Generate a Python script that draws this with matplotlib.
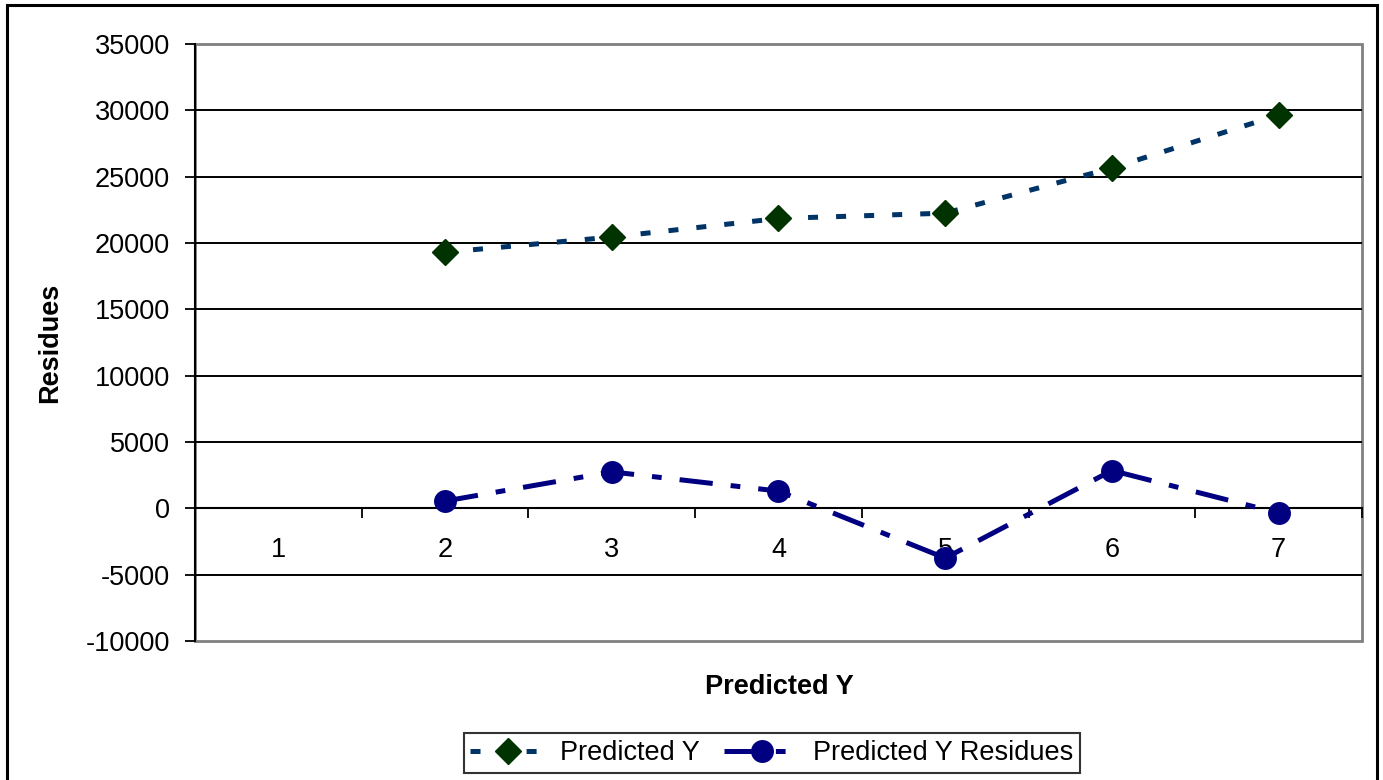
import matplotlib.pyplot as plt
from matplotlib.patches import Rectangle

plt.rcParams['font.family'] = ['Liberation Sans', 'DejaVu Sans']
plt.rcParams['lines.scale_dashes'] = False
plt.rcParams['axes.unicode_minus'] = False

categories = [1, 2, 3, 4, 5, 6, 7]
pred_x = [2, 3, 4, 5, 6, 7]
predicted_y = [19300, 20450, 21850, 22250, 25650, 29650]
residues = [550, 2750, 1300, -3750, 2850, -350]
y_ticks = list(range(-10000, 35001, 5000))

fig = plt.figure(figsize=(13.83, 7.8), dpi=100)
ax = fig.add_axes([195 / 1383, 1 - 641 / 780, 1167 / 1383, 597 / 780])

# outer chart border
fig.patches.append(Rectangle((6.5 / 1383, -0.05), 1370 / 1383, 1.05 - 5 / 780,
                             transform=fig.transFigure, fill=False,
                             edgecolor='black', lw=2.2))

ax.set_xlim(0.5, 7.5)
ax.set_ylim(-10000, 35000)

# plot area border (gray)
ax.add_patch(Rectangle((0, 0), 1, 1, transform=ax.transAxes, fill=False,
                       edgecolor='#808080', lw=2, zorder=1, clip_on=False))
for s in ['top', 'right']:
    ax.spines[s].set_visible(False)
ax.spines['left'].set_color('black')
ax.spines['left'].set_linewidth(1.5)
ax.spines['bottom'].set_position(('data', 0))
ax.spines['bottom'].set_linewidth(1.5)

for v in y_ticks[1:-1]:
    ax.axhline(v, color='black', lw=1.4, zorder=1)

ax.set_yticks(y_ticks)
ax.tick_params(axis='y', direction='out', length=7, width=1.3, pad=11,
               labelsize=19.5)

ax.set_xticks(categories)
ax.set_xticklabels([str(c) for c in categories])
ax.tick_params(axis='x', which='major', length=0, pad=21, labelsize=19.5)
ax.set_xticks([c + 0.5 for c in categories[:-1]] + [7.5], minor=True)
ax.tick_params(axis='x', which='minor', direction='out', length=7, width=1.3)

ax.plot(pred_x, predicted_y, color='#003366', lw=3.6, dashes=(7.2, 13),
        marker='D', ms=13, mfc='#003300', mec='#003300',
        label='Predicted Y', zorder=3)
ax.plot(pred_x, residues, color='#000080', lw=3.6, dashes=(24, 13, 7, 13),
        marker='o', ms=15.5, mfc='#000080', mec='#000080',
        label='Predicted Y Residues', zorder=3)

ax.set_ylabel('Residues', fontsize=19.5, fontweight='bold', labelpad=16)
fig.text(779 / 1383, 1 - 687 / 780, 'Predicted Y', fontsize=19.5,
         fontweight='bold', ha='center', va='center')

leg = fig.legend(loc='center', bbox_to_anchor=(772 / 1383, 1 - 753 / 780),
                 ncol=2, fontsize=19.5, frameon=True, fancybox=False,
                 handlelength=2.8, columnspacing=0.9, handletextpad=0.5,
                 borderpad=0.25, borderaxespad=0)
leg.get_frame().set_edgecolor('black')
leg.get_frame().set_linewidth(1.5)

fig.savefig('out.png', dpi=100)
